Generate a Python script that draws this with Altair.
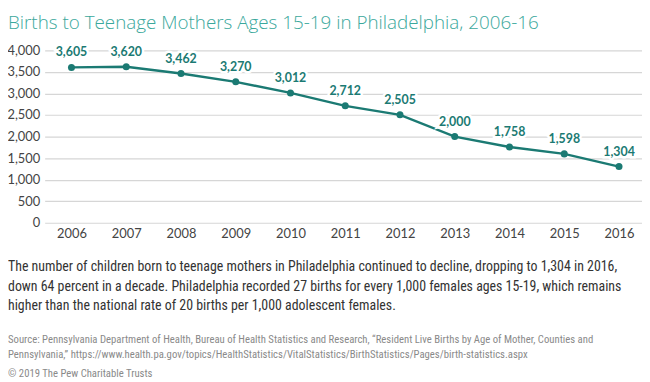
import altair as alt
import pandas as pd

years = [2006, 2007, 2008, 2009, 2010, 2011, 2012, 2013, 2014, 2015, 2016]
births = [3605, 3620, 3462, 3270, 3012, 2712, 2505, 2000, 1758, 1598, 1304]
y_ticks = [0, 500, 1000, 1500, 2000, 2500, 3000, 3500, 4000]

title_text = "Births to Teenage Mothers Ages 15-19 in Philadelphia, 2006-16"
para_lines = [
    "The number of children born to teenage mothers in Philadelphia continued to decline, dropping to 1,304 in 2016,",
    "down 64 percent in a decade. Philadelphia recorded 27 births for every 1,000 females ages 15-19, which remains",
    "higher than the national rate of 20 births per 1,000 adolescent females.",
]
source_lines = [
    "Source: Pennsylvania Department of Health, Bureau of Health Statistics and Research, \u201cResident Live Births by Age of Mother, Counties and",
    "Pennsylvania,\u201d https://www.health.pa.gov/topics/HealthStatistics/VitalStatistics/BirthStatistics/Pages/birth-statistics.aspx",
]
copyright_text = "\u00a9 2019 The Pew Charitable Trusts"

df = pd.DataFrame({"year": years, "births": births})

TEAL = "#1b7a73"
LABEL_FONT = "Lato"
TEXT_FONT = "Roboto Condensed"

PL = 37  # left padding
X0 = 8 + PL  # page x of plot left
TOP = 41
Y0 = 8 + TOP
H = 174

x = alt.X("year:Q", scale=alt.Scale(domain=[2005.51, 2016.42], nice=False, zero=False),
          axis=alt.Axis(values=years, format="d", title=None, grid=False, domain=False,
                        ticks=False, labelPadding=5, labelFontSize=13, labelColor="#444",
                        labelFont=LABEL_FONT))
y = alt.Y("births:Q", scale=alt.Scale(domain=[0, 4000], nice=False, zero=True),
          axis=alt.Axis(values=y_ticks, labelExpr="format(datum.value, ',')", title=None,
                        domain=False, ticks=False, labelOverlap=False,
                        labelPadding=5, labelFontSize=13, labelColor="#444",
                        labelFont=LABEL_FONT, gridColor="#d6d6d6", gridWidth=1.2))
txt_enc = alt.Text("births:Q", format=",")

base = alt.Chart(df)
line = base.mark_line(color=TEAL, strokeWidth=2.4).encode(x=x, y=y)
pts = base.mark_point(filled=True, size=50, color=TEAL, opacity=1).encode(x=x, y=y)
halo = base.mark_text(dy=-15, font=LABEL_FONT, fontWeight="bold", fontSize=12.5,
                      stroke="white", strokeWidth=5, color="white").encode(x=x, y=y, text=txt_enc)
lab = base.mark_text(dy=-15, font=LABEL_FONT, fontWeight="bold", fontSize=12.5,
                     color=TEAL).encode(x=x, y=y, text=txt_enc)

def txt(s, px, py, **kw):
    return alt.Chart(pd.DataFrame({"t": [s]})).mark_text(align="left", **kw).encode(
        x=alt.value(px - X0), y=alt.value(py - Y0), text="t:N")

title = txt(title_text, 8, 27, baseline="alphabetic", font="Open Sans", fontWeight=300,
            fontSize=19, color="#3ba89c")
paras = [txt(s, 8, py, baseline="middle", font=TEXT_FONT, fontSize=14, color="#333")
         for s, py in zip(para_lines, [268, 288, 307])]
srcs = [txt(s, 8, py, baseline="middle", font=TEXT_FONT, fontSize=10.8, color="#8a8a8a")
        for s, py in zip(source_lines, [341, 357])]
copy_t = txt(copyright_text, 8, 376, baseline="middle", font=TEXT_FONT, fontSize=10.8, color="#8a8a8a")

chart = alt.layer(line, pts, halo, lab, title, *paras, *srcs, copy_t).properties(
    width=603, height=H,
    padding={"left": PL, "top": TOP, "right": 0, "bottom": 374 - TOP - H},
    autosize=alt.AutoSizeParams(type="none"),
).configure_view(stroke=None)

chart.save("out.html", embed_options={"renderer": "svg", "actions": False})
